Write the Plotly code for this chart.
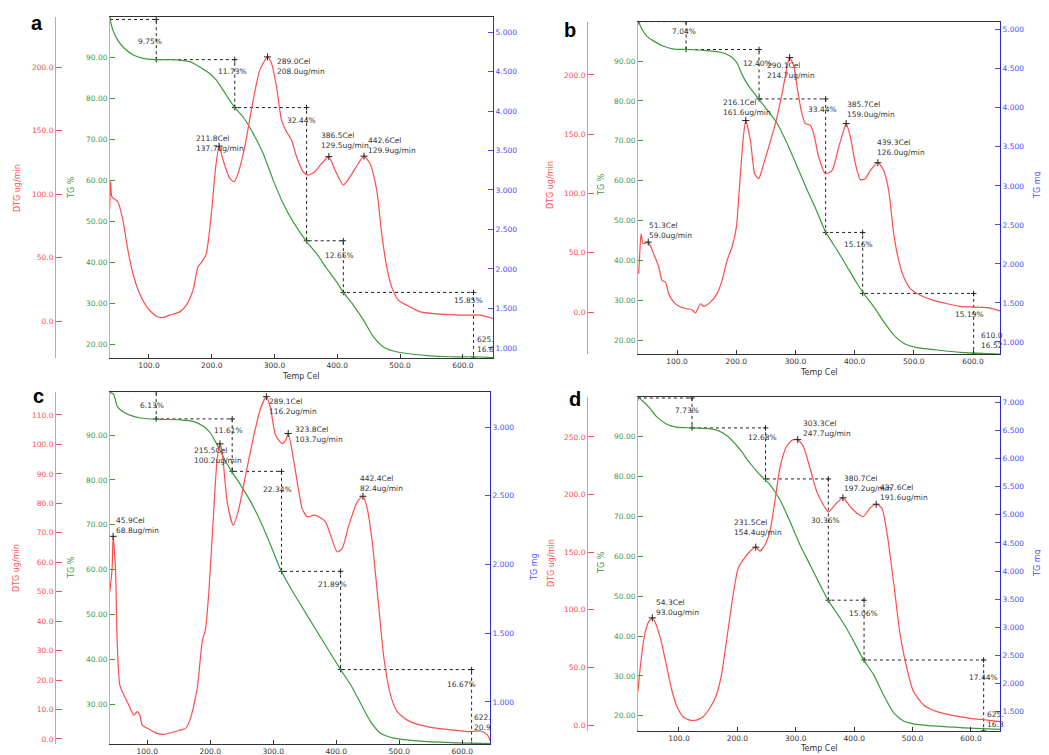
import plotly.graph_objects as go

# page offset (browser body margin) compensation
OFF = 8
W, H = 1049, 755
FW, FH = W - OFF, H - OFF

# ---------------- data: panel a ----------------
a_dtg_T = [37.5, 39.0, 41.0, 50.5, 58.5, 66.5, 74.5, 85.1, 98.4, 111.7, 122.3, 133.0, 148.9, 159.6, 170.2, 178.2, 186.2, 191.5, 199.5, 206.4,
           211.8, 218.1, 228.7, 235.6, 242.0, 252.7, 266.0, 276.6, 289.0, 295.2, 303.2, 311.2, 319.1, 327.1, 335.1, 345.7, 353.7, 364.4, 375.0, 386.5,
           396.3, 409.6, 420.2, 433.5, 442.6, 452.1, 462.8, 470.7, 478.7, 486.7, 497.3, 510.6, 531.9, 553.2, 579.8, 606.4, 627.7, 647.9]
a_dtg = [88, 110, 98, 94, 79.5, 55.9, 37.5, 21.8, 10.0, 3.9, 2.9, 4.7, 7.3, 12.6, 24.4, 42.8, 48.0, 53.3, 84.8, 121.5,
         137.7, 126.8, 112.3, 109.7, 116.3, 137.3, 174.0, 197.6, 208.0, 202.9, 184.5, 158.3, 149.0, 142.5, 129.4, 117.6, 115.0, 117.6, 124.1, 129.5,
         118.9, 107.1, 113.6, 124.1, 129.9, 124.1, 103.1, 69.0, 42.8, 27.0, 16.5, 12.6, 7.3, 6.0, 5.2, 4.7, 4.7, 2.1]
a_tg_T = [37.2, 42.6, 50.5, 61.2, 74.5, 90.4, 111.7, 138.3, 164.9, 180.9, 196.8, 207.4, 223.4, 236.7, 250.0, 266.0, 281.9, 297.9, 313.8, 329.8,
          351.1, 367.0, 383.0, 398.9, 409.6, 425.5, 441.5, 457.4, 473.4, 489.4, 510.6, 542.6, 579.8, 617.0, 647.9]
a_tg = [99.7, 96.6, 94.1, 92.1, 90.6, 89.7, 89.4, 89.4, 88.9, 87.6, 86.0, 84.4, 80.7, 77.7, 75.4, 71.4, 66.5, 60.0, 54.3, 49.8,
        45.0, 42.1, 38.5, 35.2, 32.6, 29.5, 25.9, 21.8, 19.3, 18.3, 17.7, 17.2, 16.9, 16.9, 16.7]
a_step_T = [38.0, 111.7, 236.7, 351.1, 409.6, 617.0]
a_step_L = [99.2, 89.4, 77.7, 45.2, 32.6, 16.6]
a_step_pct = [9.75, 11.73, 32.44, 12.65, 15.85]
a_peak_T = [211.8, 289.0, 386.5, 442.6]
a_peak_v = [137.7, 208.0, 129.5, 129.9]
a_end = ["625.", "16.6"]

# ---------------- data: panel b ----------------
b_dtg_T = [35.2, 36.9, 39.2, 42.6, 46.5, 51.3, 60.6, 69.0, 74.7, 80.3, 85.9, 94.4, 105.6, 116.9, 125.3, 131.0, 139.4, 145.0, 156.3, 167.6,
           176.0, 184.5, 192.9, 200.2, 207.0, 212.6, 216.1, 223.9, 231.2, 237.9, 246.4, 254.8, 266.1, 277.4, 285.8, 290.1, 297.1, 302.7, 311.1, 316.8,
           325.2, 330.9, 339.3, 350.6, 361.8, 373.1, 381.5, 385.7, 392.8, 401.2, 409.7, 418.1, 426.6, 439.3, 449.1, 457.5, 466.0, 474.4, 482.9, 494.1,
           511.0, 533.6, 556.1, 578.6, 601.1, 623.6, 646.2]
b_dtg = [32.3, 49, 66, 57.7, 58, 59.0, 49, 38, 26.7, 25.3, 15.5, 8.4, 4.2, 2.8, 2.0, -0.8, 7.0, 4.8, 8.4, 15.5,
         26.7, 43.6, 54.9, 71.7, 116.7, 150.5, 161.6, 144.9, 116.7, 112.5, 125.2, 139.2, 158.9, 184.2, 206.8, 214.7, 208, 190, 167, 159,
         157.5, 150.5, 130.8, 116.7, 119.5, 139.2, 153.3, 159.0, 147.7, 125.2, 111.7, 112.5, 119.5, 126.0, 119.5, 102.7, 66.1, 43.6, 29.5, 19.7,
         14.1, 9.8, 7.0, 4.8, 4.2, 3.7, 0.8]
b_tg_T = [35.2, 40.9, 49.3, 60.6, 77.5, 94.4, 116.9, 145.0, 173.2, 190.1, 201.4, 209.8, 221.1, 237.9, 252.0, 268.9, 285.8, 302.7, 319.6, 336.5,
          350.6, 370.3, 387.2, 404.1, 415.3, 432.2, 449.1, 466.0, 482.9, 505.4, 539.2, 578.6, 623.6, 646.2]
b_tg = [99.8, 97.9, 96.2, 95.0, 93.7, 93.0, 92.9, 92.7, 92.2, 91.2, 89.5, 86.6, 83.7, 80.5, 77.8, 74.4, 69.4, 63.6, 57.7, 52.2,
        47.2, 42.6, 38.4, 34.2, 31.7, 28.4, 24.6, 21.3, 19.2, 18.1, 17.5, 16.9, 16.6, 16.5]
b_step_T = [35.5, 115.2, 238.5, 351.0, 413.6, 601.1]
b_step_L = [99.9, 92.9, 80.5, 47.0, 31.7, 16.5]
b_step_pct = [7.04, 12.40, 33.44, 15.16, 15.19]
b_peak_T = [51.3, 216.1, 290.1, 385.7, 439.3]
b_peak_v = [59.0, 161.6, 214.7, 159.0, 126.0]
b_end = ["610.0", "16.52"]

# ---------------- data: panel c ----------------
c_dtg_T = [40.7, 44.4, 45.9, 49.7, 52.4, 56.6, 63.0, 70.9, 78.8, 84.1, 88.4, 92.1, 102.6, 115.9, 126.5, 137.0, 152.9, 160.8, 168.8, 179.4,
           187.3, 192.6, 197.9, 205.8, 211.1, 215.5, 219.0, 227.0, 236.5, 245.5, 256.1, 269.3, 279.9, 289.1, 295.8, 303.7, 314.3, 319.6, 323.8, 330.2,
           338.1, 346.0, 354.0, 364.6, 375.1, 383.1, 391.0, 401.6, 409.5, 420.1, 433.3, 442.4, 449.2, 457.1, 467.7, 475.7, 486.2, 496.8, 512.7, 533.9,
           555.0, 581.5, 607.9, 629.1, 639.7, 645.0]
c_dtg = [50, 57.9, 68.8, 57.9, 33, 18.3, 14.9, 11.5, 8.1, 9.3, 8.1, 4.7, 3.4, 1.9, 1.6, 2.1, 3.1, 3.6, 7.0, 17.2,
         33.0, 37.5, 50.0, 78.2, 95.2, 100.2, 97.5, 80.4, 72.6, 78.2, 89.5, 103.1, 112.2, 116.2, 112.2, 103.1, 100.3, 101.4, 103.7, 97.5,
         87.3, 78.2, 75.4, 76.0, 75.1, 73.7, 69.2, 63.5, 64.7, 72.6, 80.5, 82.4, 78.2, 66.9, 44.3, 27.4, 14.9, 9.3, 6.4, 4.7,
         3.8, 3.1, 2.5, 2.7, 1.4, -0.9]
c_tg_T = [40.7, 47.1, 52.4, 60.3, 73.5, 89.4, 115.9, 152.9, 174.1, 189.9, 200.5, 211.1, 221.7, 233.9, 248.1, 264.0, 279.9, 295.8, 311.6, 327.5,
          343.4, 364.6, 385.7, 406.9, 422.8, 438.6, 454.5, 470.4, 491.5, 528.6, 581.5, 645.0]
c_tg = [99.6, 99.0, 96.4, 95.3, 94.4, 93.8, 93.5, 93.4, 93.0, 91.9, 90.4, 87.8, 84.9, 81.9, 78.9, 75.2, 70.7, 65.5, 60.0, 55.9,
        52.2, 47.3, 42.5, 37.7, 34.3, 30.2, 26.1, 23.5, 22.4, 21.8, 21.4, 21.2]
c_step_T = [40.7, 114.3, 234.9, 313.2, 406.9, 614.8]
c_step_L = [99.7, 93.6, 81.9, 59.6, 37.7, 21.0]
c_step_pct = [6.13, 11.61, 22.34, 21.89, 16.67]
c_peak_T = [45.9, 215.5, 289.1, 323.8, 442.4]
c_peak_v = [68.8, 100.2, 116.2, 103.7, 82.4]
c_end = ["622.", "20.9"]

# ---------------- data: panel d ----------------
d_dtg_T = [29.6, 35.4, 41.1, 46.8, 54.3, 61.1, 69.7, 78.3, 86.8, 95.4, 106.9, 118.3, 129.7, 141.2, 152.6, 164.1, 172.7, 181.2, 192.7, 201.3,
           209.8, 221.3, 231.5, 238.4, 247.0, 255.6, 264.2, 272.8, 284.2, 294.5, 303.3, 312.8, 324.3, 335.7, 347.1, 355.7, 367.2, 380.7, 392.9, 404.3,
           415.8, 427.2, 437.6, 447.3, 455.8, 467.3, 478.7, 490.2, 501.6, 518.8, 541.6, 570.3, 598.9, 627.5, 650.3]
d_dtg = [29, 57.9, 78.2, 88.4, 93.0, 86.9, 72.4, 52.1, 31.9, 17.4, 7.2, 4.3, 4.3, 7.2, 14.5, 26.1, 43.5, 72.4, 113, 136.2,
         143.4, 150.6, 154.4, 151.0, 156.0, 168, 194.1, 223.1, 241.9, 247.5, 247.7, 241.9, 223.1, 202.8, 191.2, 184.8, 191.2, 197.2, 189.7, 184,
         181, 188.3, 191.6, 188.3, 168, 124.6, 78.2, 49.2, 29, 17.4, 11.6, 8.1, 5.8, 4.3, 2.9]
d_tg_T = [29.6, 38.2, 49.7, 61.1, 78.3, 95.4, 124.0, 158.4, 175.5, 192.7, 207.0, 221.3, 238.4, 255.6, 272.8, 289.9, 307.1, 324.3, 341.4, 355.7,
          375.7, 392.9, 415.8, 433.0, 450.1, 467.3, 484.4, 501.6, 541.6, 587.4, 650.3]
d_tg = [99.9, 98.9, 97.2, 95.1, 93.2, 92.4, 92.2, 91.9, 90.9, 88.8, 86.3, 83.4, 80.5, 78.0, 74.2, 68.8, 62.9, 57.9, 52.9, 48.9,
        44.6, 40.4, 34.1, 30.4, 25.3, 20.8, 18.7, 18.0, 17.4, 17.0, 16.6]
d_step_T = [29.6, 122.3, 248.2, 355.7, 416.9, 621.7]
d_step_L = [99.7, 92.2, 79.4, 49.0, 34.0, 16.2]
d_step_pct = [7.73, 12.68, 30.36, 15.06, 17.44]
d_peak_T = [54.3, 231.5, 303.3, 380.7, 437.6]
d_peak_v = [93.0, 154.4, 247.7, 197.2, 191.6]
d_end = ["625.", "16.3"]

# ---------------- styles / layout ----------------
RED = '#ff4d4d'
RED_AX = '#ff8c8c'
GREEN = '#3c9a3c'
GREEN_AX = '#8fd08f'
BLUE = '#4b4bff'
BLUE_AX = '#2a2ad0'
DARK = '#333333'
FONT = 'DejaVu Sans'
FS = 7.5

panels = [
    dict(letter='a', frame=(110, 493, 17, 358), red_x=55, xr=[38, 648], tgr=[16.6, 99.8], dtgr=[-29, 239.4], dtgd=50,
         mgr=[0.873, 5.19], mass=5.2,
         dtg_T=a_dtg_T, dtg=a_dtg, tg_T=a_tg_T, tg=a_tg, step_T=a_step_T, step_L=a_step_L, pct=a_step_pct,
         peak_T=a_peak_T, peak_v=a_peak_v, end=a_end,
         pct_pos=[(101, 93.9), (233, 86.6), (343, 74.6), (404, 41.7), (609, 30.7)],
         peak_pos=[(171.8, 139.5), (301, 200.5), (370.7, 142), (445.2, 138)],
         end_pos=(619.7, 20.0),
         letter_px=(37, 23), dtg_title=(17, 188), tg_title=(71, 188), mg_title=None, x_title=(301, 377)),
    dict(letter='b', frame=(638, 1000, 22, 354), red_x=587, xr=[34, 645.6], tgr=[16.5, 99.8], dtgr=[-35.4, 244.7], dtgd=50,
         mgr=[0.846, 5.10], mass=5.11,
         dtg_T=b_dtg_T, dtg=b_dtg, tg_T=b_tg_T, tg=b_tg, step_T=b_step_T, step_L=b_step_L, pct=b_step_pct,
         peak_T=b_peak_T, peak_v=b_peak_v, end=b_end,
         pct_pos=[(112.4, 97.3), (236.3, 89.5), (344.9, 77.8), (406.9, 44.1), (594.9, 26.5)],
         peak_pos=[(49.3, 68.4), (174.9, 172.5), (248.1, 203.8), (384.3, 171), (435, 138.6)],
         end_pos=(609.6, 20.0),
         letter_px=(570, 30), dtg_title=(550, 185), tg_title=(601, 185), mg_title=(1037, 185), x_title=(819, 372)),
    dict(letter='c', frame=(110, 490, 392, 744), red_x=55, xr=[41, 644], tgr=[21.1, 99.6], dtgr=[-1.7, 117.8], dtgd=10,
         mgr=[0.694, 3.255], mass=3.27,
         dtg_T=c_dtg_T, dtg=c_dtg, tg_T=c_tg_T, tg=c_tg, step_T=c_step_T, step_L=c_step_L, pct=c_step_pct,
         peak_T=c_peak_T, peak_v=c_peak_v, end=c_end,
         pct_pos=[(107.4, 96.6), (229.1, 91.0), (306.3, 77.8), (394.2, 56.6), (598.4, 34.3)],
         peak_pos=[(47.1, 72.5), (170.4, 96.4), (290.5, 112.8), (331.2, 103.4), (434.9, 86.8)],
         end_pos=(615.9, 25.9),
         letter_px=(38, 396), dtg_title=(16, 568), tg_title=(71, 568), mg_title=(534, 567), x_title=None),
    dict(letter='d', frame=(638, 1000, 397, 731), red_x=587, xr=[29.8, 649.7], tgr=[16.2, 99.95], dtgr=[-5.2, 284.7], dtgd=50,
         mgr=[1.16, 7.09], mass=7.1,
         dtg_T=d_dtg_T, dtg=d_dtg, tg_T=d_tg_T, tg=d_tg, step_T=d_step_T, step_L=d_step_L, pct=d_step_pct,
         peak_T=d_peak_T, peak_v=d_peak_v, end=d_end,
         pct_pos=[(113.7, 96.5), (243.6, 89.7), (350.6, 69.1), (415.2, 45.6), (621.7, 29.5)],
         peak_pos=[(56.5, 102.1), (191.5, 171.2), (308.8, 257.2), (378.6, 209.5), (440.4, 202.2)],
         end_pos=(623.5, 19.0),
         letter_px=(575, 399), dtg_title=(551, 563), tg_title=(601, 563), mg_title=(1037, 563), x_title=(819, 748)),
]


def pxx(p):
    return (p - OFF) / FW


def pxy(p):
    return 1 - (p - OFF) / FH


def yn(k):
    return 'y' if k == 1 else f'y{k}'


def ykey(k):
    return 'yaxis' if k == 1 else f'yaxis{k}'


def paper_text(px, text, color, size, angle=0, family=FONT):
    return dict(x=pxx(px[0]), y=pxy(px[1]), xref='paper', yref='paper', xanchor='center', yanchor='middle',
                showarrow=False, text=text, textangle=angle, font=dict(family=family, size=size, color=color))


fig = go.Figure()
layout = dict(width=FW, height=FH, margin=dict(l=0, r=0, t=0, b=0, pad=0, autoexpand=False),
              paper_bgcolor='white', plot_bgcolor='white',
              showlegend=False, font=dict(family=FONT, size=FS, color=DARK))
annotations = []

for i, p in enumerate(panels):
    xn = 'x' if i == 0 else f'x{i + 1}'
    xkey = 'xaxis' if i == 0 else f'xaxis{i + 1}'
    k_tg, k_dtg, k_mg = 3 * i + 1, 3 * i + 2, 3 * i + 3
    L, R, T, B = p['frame']
    layout[xkey] = dict(domain=[pxx(L), pxx(R)], anchor=yn(k_tg), range=p['xr'], tick0=0, dtick=100, tickformat='.1f',
                        ticks='inside', ticklen=4, tickcolor=DARK, showline=True, linecolor=DARK, linewidth=1, mirror=True,
                        showgrid=False, zeroline=False, automargin=False,
                        tickfont=dict(family=FONT, size=FS, color=DARK))
    layout[ykey(k_tg)] = dict(domain=[pxy(B), pxy(T)], anchor=xn, range=p['tgr'], tick0=0, dtick=10, tickformat='.2f',
                              ticks='inside', ticklen=5, tickcolor=GREEN, showline=True, linecolor=GREEN_AX, linewidth=1,
                              showgrid=False, zeroline=False, automargin=False,
                              tickfont=dict(family=FONT, size=FS, color=GREEN))
    layout[ykey(k_dtg)] = dict(overlaying=yn(k_tg), anchor='free', position=pxx(p['red_x']), side='left', range=p['dtgr'],
                               tick0=0, dtick=p['dtgd'], tickformat='.1f', ticks='inside', ticklen=6, tickcolor=RED,
                               showline=True, linecolor=RED_AX, linewidth=1, showgrid=False, zeroline=False,
                               automargin=False, tickfont=dict(family=FONT, size=FS, color=RED))
    layout[ykey(k_mg)] = dict(overlaying=yn(k_tg), anchor=xn, side='right', range=p['mgr'], tick0=0, dtick=0.5,
                              tickformat='.3f', ticks='inside', ticklen=5, tickcolor=BLUE, showline=True, linecolor=BLUE_AX,
                              linewidth=1.2, showgrid=False, zeroline=False, automargin=False,
                              tickfont=dict(family=FONT, size=FS, color=BLUE))

    # invisible TG mg trace so the mg axis is attached to data
    fig.add_trace(go.Scatter(x=p['tg_T'], y=[v * p['mass'] / 100 for v in p['tg']], xaxis=xn, yaxis=yn(k_mg),
                             mode='lines', line=dict(width=0.1, color='rgba(0,0,0,0)'), hoverinfo='skip'))

    # step-analysis lines
    sx, sy = [p['step_T'][0]], [p['step_L'][0]]
    for j in range(1, len(p['step_T'])):
        sx += [p['step_T'][j], p['step_T'][j]]
        sy += [p['step_L'][j - 1], p['step_L'][j]]
    fig.add_trace(go.Scatter(x=sx, y=sy, xaxis=xn, yaxis=yn(k_tg), mode='lines+markers',
                             line=dict(color='#222222', width=1, dash='dot'),
                             marker=dict(symbol='cross-thin-open', size=4, color='#222222',
                                         line=dict(color='#222222', width=1)),
                             hoverinfo='skip'))

    # TG curve
    fig.add_trace(go.Scatter(x=p['tg_T'], y=p['tg'], xaxis=xn, yaxis=yn(k_tg), mode='lines',
                             line=dict(color=GREEN, width=1.2, shape='spline', smoothing=0.6)))
    # DTG curve
    fig.add_trace(go.Scatter(x=p['dtg_T'], y=p['dtg'], xaxis=xn, yaxis=yn(k_dtg), mode='lines',
                             line=dict(color=RED, width=1.2, shape='spline', smoothing=0.6)))
    # peak markers
    fig.add_trace(go.Scatter(x=p['peak_T'], y=p['peak_v'], xaxis=xn, yaxis=yn(k_dtg), mode='markers',
                             marker=dict(symbol='cross-thin-open', size=5, color='#222222',
                                         line=dict(color='#222222', width=1)),
                             hoverinfo='skip'))

    # peak labels
    for (t, v), (lx, ly) in zip(zip(p['peak_T'], p['peak_v']), p['peak_pos']):
        annotations.append(dict(x=lx, y=ly, xref=xn, yref=yn(k_dtg), xanchor='left', yanchor='middle', showarrow=False,
                                text=f"{t:.1f}Cel<br>{v:.1f}ug/min", align='left',
                                font=dict(family=FONT, size=FS, color=DARK)))
    # step percentages
    for pc, (lx, ly) in zip(p['pct'], p['pct_pos']):
        annotations.append(dict(x=lx, y=ly, xref=xn, yref=yn(k_tg), xanchor='center', yanchor='middle', showarrow=False,
                                text=f"{pc:.2f}%", font=dict(family=FONT, size=FS, color=DARK)))
    # end label
    annotations.append(dict(x=p['end_pos'][0], y=p['end_pos'][1], xref=xn, yref=yn(k_tg), xanchor='left',
                            yanchor='middle', showarrow=False, align='left', text='<br>'.join(p['end']),
                            font=dict(family=FONT, size=FS, color=DARK)))
    # panel letter and axis titles
    annotations.append(paper_text(p['letter_px'], f"<b>{p['letter']}</b>", 'black', 20, family='Liberation Sans'))
    annotations.append(paper_text(p['dtg_title'], 'DTG ug/min', RED, 8, -90))
    annotations.append(paper_text(p['tg_title'], 'TG %', GREEN, 8, -90))
    if p['mg_title']:
        annotations.append(paper_text(p['mg_title'], 'TG mg', BLUE, 8, -90))
    if p['x_title']:
        annotations.append(paper_text(p['x_title'], 'Temp Cel', DARK, 8))

layout['annotations'] = annotations
fig.update_layout(**layout)
fig.write_html("out.html")
